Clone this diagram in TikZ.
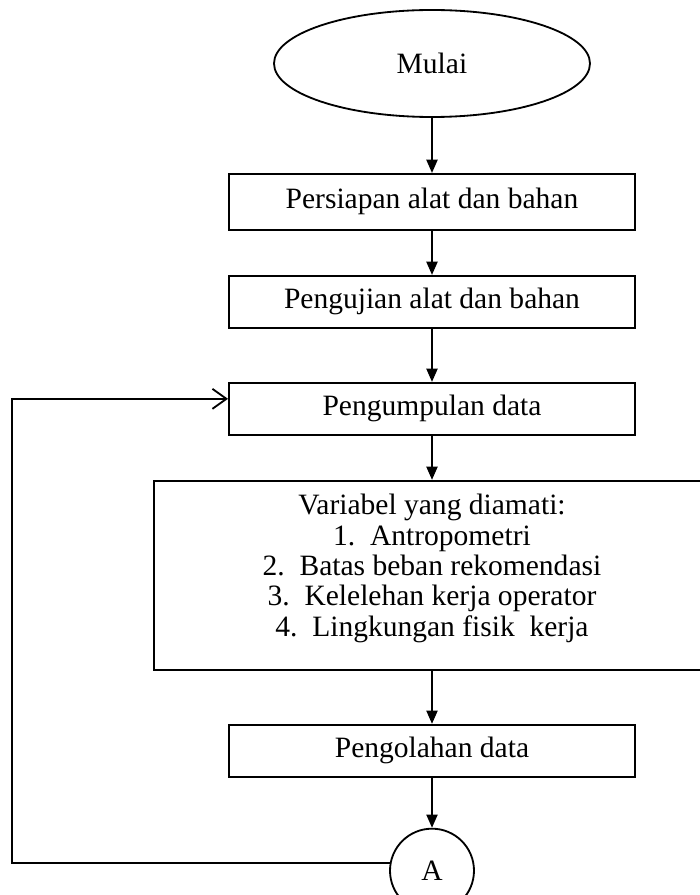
\documentclass[tikz,border=0pt]{standalone}
\usepackage{fontspec}
\setmainfont{Liberation Serif}
\usetikzlibrary{shapes,arrows,positioning,arrows.meta,calc}

\begin{document}
\begin{tikzpicture}[
        font=\fontsize{21}{21.6}\selectfont,
        startnode/.style={ellipse, draw, line width=1.3pt, minimum width=7.9cm, minimum height=2.675cm, inner sep=0pt},
        stepbox/.style={rectangle, draw, line width=1.4pt, minimum width=10.15cm, minimum height=1.3cm, inner sep=0pt},
        connnode/.style={circle, draw, line width=1.3pt, minimum size=2.1cm, inner sep=0pt},
        flow/.style={-{Triangle[length=3.3mm,width=2.8mm]}, line width=1.1pt},
        backflow/.style={-{Straight Barb[length=3.5mm,width=5mm]}, line width=1.3pt}
        ]
    \useasboundingbox (-10.8,1.5875) rectangle (6.7,-20.7875);

    % Nodes
    \node[startnode] (mulai) {Mulai};
    \node[stepbox, minimum height=1.4cm] (persiapan) [below=1.375cm of mulai] {Persiapan alat dan bahan};
    \node[stepbox] (pengujian) [below=1.1cm of persiapan] {Pengujian alat dan bahan};
    \node[stepbox] (pengumpulan) [below=1.325cm of pengujian] {Pengumpulan data};
    \node[stepbox, align=center, minimum width=13.9cm, minimum height=4.725cm] (variabel) [below=1.1cm of pengumpulan]
        {Variabel yang diamati:\\ 1.\ \ Antropometri\\ 2.\ \ Batas beban rekomendasi\\ 3.\ \ Kelelehan kerja operator\\ 4.\ \ Lingkungan fisik\ \ kerja\\[-0.25cm]};
    \node[stepbox] (pengolahan) [below=1.325cm of variabel] {Pengolahan data};
    \node[connnode] (A) [below=1.25cm of pengolahan] {A};
    \coordinate (back) at ($(pengumpulan.west)+(-5.4cm,0.25cm)$);

    % Lines
    \draw[flow] (mulai.south) -- (persiapan.north);
    \draw[flow] (persiapan.south) -- (pengujian.north);
    \draw[flow] (pengujian.south) -- (pengumpulan.north);
    \draw[flow] (pengumpulan.south) -- (variabel.north);
    \draw[flow] (variabel.south) -- (pengolahan.north);
    \draw[flow] (pengolahan.south) -- (A.north);

    \draw[backflow] (A.170) -| (back) -- ([yshift=0.25cm]pengumpulan.west);
\end{tikzpicture}
\end{document}
